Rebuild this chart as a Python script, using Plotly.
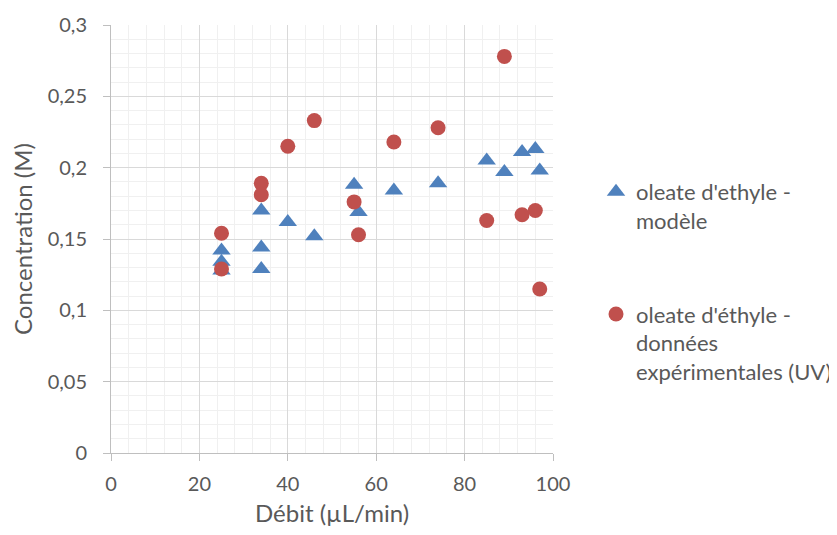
import plotly.graph_objects as go

# Débit (µL/min) and concentration (M)
debit_modele = [25, 25, 25, 34, 34, 34, 40, 46, 55, 56, 64, 74, 85, 89, 93, 96, 97]
conc_modele = [0.142, 0.134, 0.128, 0.170, 0.144, 0.129, 0.162, 0.152, 0.188, 0.169,
               0.184, 0.189, 0.205, 0.197, 0.211, 0.213, 0.198]

debit_uv = [25, 25, 34, 34, 40, 46, 55, 56, 64, 74, 85, 89, 93, 96, 97]
conc_uv = [0.154, 0.129, 0.189, 0.181, 0.215, 0.233, 0.176, 0.153, 0.218, 0.228,
           0.163, 0.278, 0.167, 0.170, 0.115]

name_modele = "oleate d'ethyle -<br>modèle"
name_uv = "oleate d'éthyle -<br>données<br>expérimentales (UV)"

x_title = "Débit (µL/min)"
y_title = "Concentration (M)"

font_family = "Lato, 'Open Sans', sans-serif"
text_color = "#595959"

fig = go.Figure()
fig.add_trace(go.Scatter(
    x=debit_modele, y=conc_modele, mode="markers", name=name_modele,
    legendgroup="m",
    marker=dict(symbol="triangle-up", size=16, color="#4F81BD"),
))
fig.add_trace(go.Scatter(
    x=debit_uv, y=conc_uv, mode="markers", name=name_uv,
    legendgroup="uv",
    marker=dict(symbol="circle", size=15, color="#C0504D"),
))

fig.update_layout(
    width=829, height=527,
    margin=dict(l=103, r=284, t=17, b=82),
    paper_bgcolor="white", plot_bgcolor="white",
    separators=", ",
    font=dict(family=font_family, size=20, color=text_color),
    legend=dict(xref="container", yref="container",
                x=0.7093, y=0.6907, xanchor="left", yanchor="top",
                font=dict(size=22, color=text_color), valign="top",
                tracegroupgap=62, itemsizing="trace", bgcolor="rgba(0,0,0,0)",
                itemwidth=30),
    xaxis=dict(
        range=[0, 100], dtick=20, tick0=0,
        showgrid=True, gridcolor="#D9D9D9", gridwidth=1,
        minor=dict(dtick=4, showgrid=True, gridcolor="#F0F0F0", gridwidth=1),
        showline=True, linecolor="#BFBFBF", linewidth=1,
        ticks="outside", ticklen=7, tickcolor="#BFBFBF",
        ticklabelstandoff=6,
        zeroline=False, automargin=False,
        title=dict(text=x_title, standoff=11),
    ),
    yaxis=dict(
        range=[0, 0.3], dtick=0.05, tick0=0,
        showgrid=True, gridcolor="#D9D9D9", gridwidth=1,
        minor=dict(dtick=0.01, showgrid=True, gridcolor="#F0F0F0", gridwidth=1),
        showline=True, linecolor="#BFBFBF", linewidth=1,
        ticks="outside", ticklen=7, tickcolor="#BFBFBF",
        ticklabelstandoff=12,
        zeroline=False, automargin=False,
        title=dict(text=y_title, standoff=14),
    ),
)

fig.write_html("out.html")
